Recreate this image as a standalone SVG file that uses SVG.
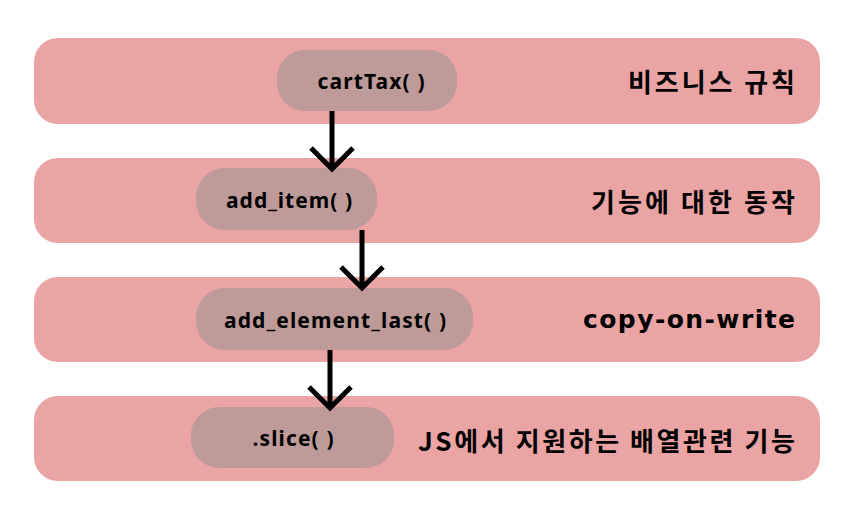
<svg xmlns="http://www.w3.org/2000/svg" width="858" height="520" viewBox="0 0 858 520">
<defs>
<style>
.band{fill:#EBA4A4}
.node{fill:#BE9A99}
.nt{font-family:"Noto Sans","Noto Sans CJK KR",sans-serif;font-weight:700;font-size:21px;fill:#000;text-anchor:middle;dominant-baseline:central}
.lt{font-family:"DejaVu Sans","Noto Sans CJK KR",sans-serif;font-weight:700;font-size:25px;fill:#000;text-anchor:end;dominant-baseline:central}
.kt{font-family:"Noto Sans CJK KR",sans-serif;font-weight:700;font-size:26px;fill:#000;text-anchor:end;dominant-baseline:central}
.arr{stroke:#000;stroke-width:5;fill:none;stroke-linecap:butt}
</style>
</defs>
<rect width="858" height="520" fill="#fff"/>
<g id="band1"><rect class="band" x="34" y="38" width="786" height="86" rx="24"/><text class="kt" x="795" y="80" textLength="167" lengthAdjust="spacing">비즈니스 규칙</text></g>
<g id="band2"><rect class="band" x="34" y="158" width="786" height="85" rx="24"/><text class="kt" x="795" y="200" textLength="204" lengthAdjust="spacing">기능에 대한 동작</text></g>
<g id="band3"><rect class="band" x="34" y="277" width="786" height="85" rx="24"/><text class="lt" x="795" y="319" textLength="212" lengthAdjust="spacing">copy-on-write</text></g>
<g id="band4"><rect class="band" x="34" y="396" width="786" height="85" rx="24"/><text class="kt" x="795" y="439" textLength="377" lengthAdjust="spacing">JS에서 지원하는 배열관련 기능</text></g>
<g id="cartTax"><rect class="node" x="277" y="50" width="180" height="61" rx="28"/><text class="nt" x="371" y="81" textLength="107" lengthAdjust="spacing">cartTax( )</text></g>
<g id="add_item"><rect class="node" x="196" y="168" width="181" height="62" rx="29"/><text class="nt" x="289" y="200" textLength="126" lengthAdjust="spacing">add_item( )</text></g>
<g id="add_element_last"><rect class="node" x="196" y="288" width="277" height="62" rx="29"/><text class="nt" x="335" y="320" textLength="222" lengthAdjust="spacing">add_element_last( )</text></g>
<g id="slice"><rect class="node" x="191" y="407" width="203" height="61" rx="28"/><text class="nt" x="293" y="438" textLength="81" lengthAdjust="spacing">.slice( )</text></g>
<g id="connectors">
<path class="arr" d="M332 111 V169 M311 148 L332 169 L353 148"/>
<path class="arr" d="M362 230 V288 M341 267 L362 288 L383 267"/>
<path class="arr" d="M330 350 V408 M309 387 L330 408 L351 387"/>
</g>
</svg>
